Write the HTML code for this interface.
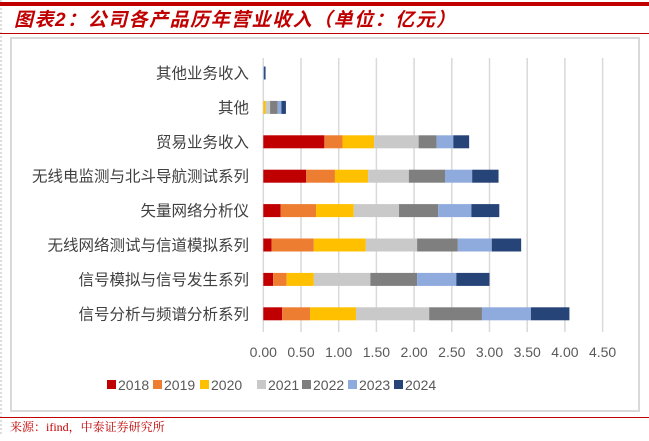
<!DOCTYPE html>
<html><head><meta charset="utf-8"><style>
body{margin:0;background:#fff;width:649px;height:436px;overflow:hidden;font-family:"Liberation Sans","Noto Sans CJK SC",sans-serif;}
</style></head><body>
<svg width="649" height="436" xmlns="http://www.w3.org/2000/svg">
<line x1="1" y1="0" x2="1" y2="436" stroke="#bbb" stroke-dasharray="2,2"/>
<rect x="0" y="2" width="649" height="4" fill="#c00000"/>
<text x="14" y="26" font-size="19" font-style="italic" font-weight="bold" fill="#c00000" letter-spacing="1.5" font-family="'Liberation Sans','Noto Sans CJK SC',sans-serif">图表2：公司各产品历年营业收入（单位：亿元）</text>
<line x1="0" y1="33.5" x2="649" y2="33.5" stroke="#c00000" stroke-width="1"/>
<rect x="11" y="38" width="628" height="373" fill="#fff" stroke="#d9d9d9" stroke-width="2"/>
<g id="grid"></g>
<g id="bars"></g>
<g id="labels"></g>
<g id="legend"></g>
<line x1="0" y1="417.5" x2="649" y2="417.5" stroke="#c00000" stroke-width="1"/>
<text x="10" y="431" font-size="12" fill="#c00000" font-family="'Liberation Serif','Noto Serif CJK SC',serif">来源：ifind，中泰证券研究所</text>
</svg>
<script>
const categories=["其他业务收入","其他","贸易业务收入","无线电监测与北斗导航测试系列","矢量网络分析仪","无线网络测试与信道模拟系列","信号模拟与信号发生系列","信号分析与频谱分析系列"];
const years=["2018","2019","2020","2021","2022","2023","2024"];
const colors=["#c00000","#ed7d31","#ffc000","#c9c9c9","#7f7f7f","#8faadc","#264478"];
const v2018=[0,0,0.81,0.57,0.23,0.11,0.13,0.25];
const v2019=[0,0,0.24,0.38,0.47,0.56,0.18,0.37];
const v2020=[0,0.03,0.42,0.44,0.50,0.69,0.36,0.61];
const v2021=[0,0.06,0.59,0.54,0.60,0.68,0.75,0.97];
const v2022=[0,0.10,0.24,0.48,0.52,0.54,0.62,0.70];
const v2023=[0.01,0.05,0.22,0.36,0.44,0.45,0.52,0.65];
const v2024=[0.02,0.06,0.21,0.35,0.37,0.39,0.44,0.51];
const series=[v2018,v2019,v2020,v2021,v2022,v2023,v2024];
const ticks=[0,0.5,1,1.5,2,2.5,3,3.5,4,4.5];
const NS="http://www.w3.org/2000/svg";
const x0=263.3,ppu=75.4;
const xs=v=>x0+v*ppu;
const ys=i=>73+i*34.4;
function mk(t,a,p){const e=document.createElementNS(NS,t);for(const k in a)e.setAttribute(k,a[k]);p.appendChild(e);return e;}
const g=document.getElementById('grid'),b=document.getElementById('bars'),l=document.getElementById('labels'),lg=document.getElementById('legend');
ticks.forEach(t=>{
 const ln=mk('line',{x1:xs(t),x2:xs(t),y1:58,y2:332,stroke:'#d9d9d9','stroke-width':1.5},g);
 
 
 const tx=mk('text',{x:xs(t),y:357,'font-size':14,fill:'#595959','text-anchor':'middle'},l);
 tx.textContent=t.toFixed(2);
 
 
});
categories.forEach((c,i)=>{
 const tx=mk('text',{x:249,y:ys(i)+5.5,'font-size':15.5,fill:'#404040','text-anchor':'end'},l);
 tx.textContent=c;
 
 
 let cum=0;
 series.forEach((s,k)=>{
  const v=s[i];
  if(v>0){
   const r=mk('rect',{x:xs(cum),y:ys(i)-6.5,width:v*ppu,height:13,fill:colors[k]},b);
   
   
  }
  cum+=v;
 });
});
const lx=[107,153,200,257,302,348,394];
years.forEach((y,k)=>{
 const r=mk('rect',{x:lx[k],y:380,width:9,height:9,fill:colors[k]},lg);
 
 
 const t=mk('text',{x:lx[k]+11,y:390,'font-size':14,fill:'#595959'},lg);
 t.textContent=y;
 
 
});
</script>
</body></html>
